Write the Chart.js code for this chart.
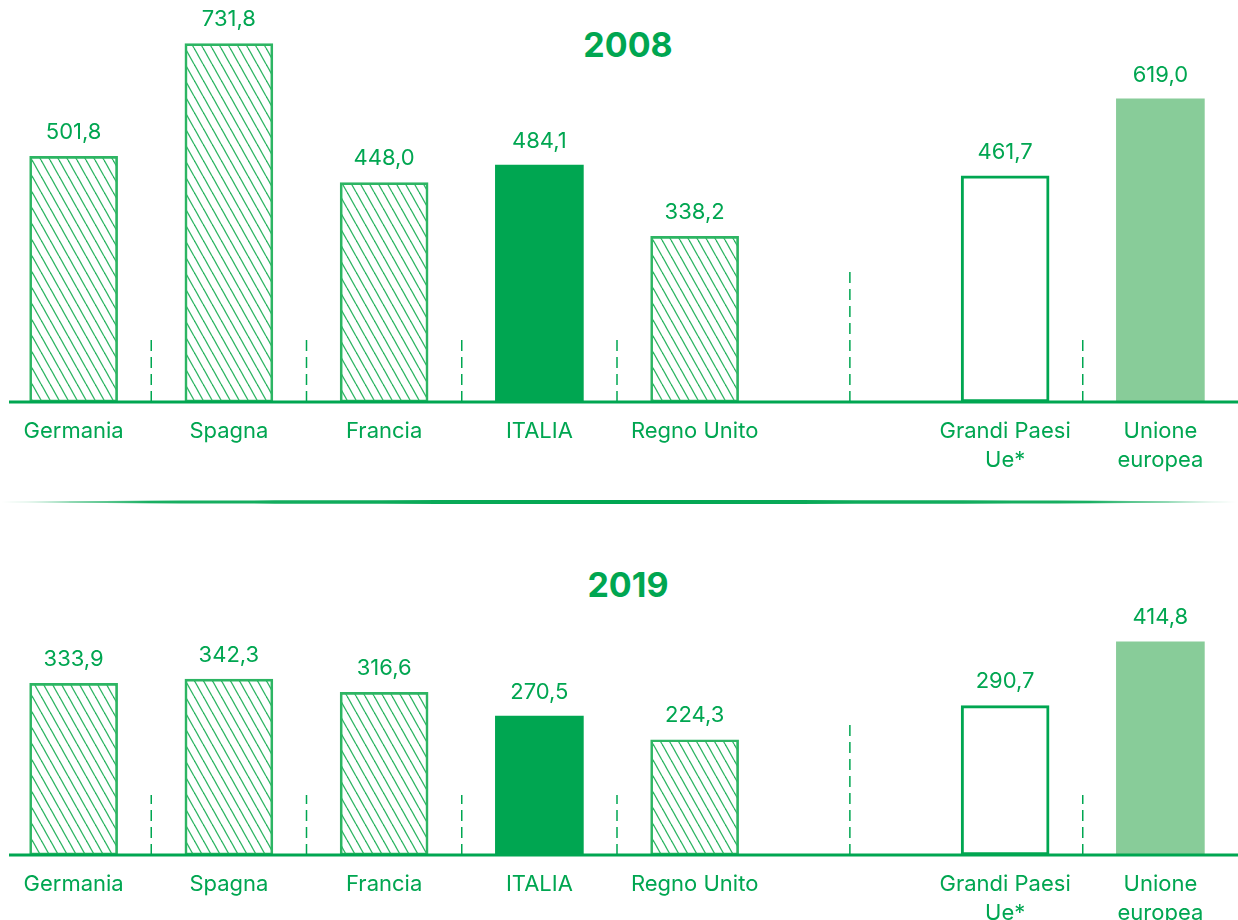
<!DOCTYPE html>
<html>
<head>
<meta charset="utf-8">
<script src="https://cdn.jsdelivr.net/npm/chart.js@4"></script>
<style>
  body{margin:0;background:#fff;width:1238px;height:920px;overflow:hidden;position:relative;font-family:Inter,"Noto Sans",sans-serif;}
  .year{position:absolute;left:0;width:1256px;text-align:center;color:#00a651;font-weight:700;font-size:34px;}
  #divider{position:absolute;left:0;top:500px;width:1238px;height:4px;
    background:linear-gradient(to right,rgba(0,166,81,0) 0%,rgba(0,166,81,0.9) 12%,#00a651 50%,rgba(0,166,81,0.9) 88%,rgba(0,166,81,0) 100%);
    border-radius:50%;}
  canvas{position:absolute;left:-4px;}
</style>
</head>
<body>
<div class="year" style="top:24px">2008</div>
<canvas id="chart2008" width="1242" height="480" style="top:0px"></canvas>
<div id="divider"></div>
<div class="year" style="top:564px">2019</div>
<canvas id="chart2019" width="1242" height="400" style="top:520px"></canvas>
<script>
var categories = ['Germania','Spagna','Francia','ITALIA','Regno Unito','',['Grandi Paesi','Ue*'],['Unione','europea']];
var values2008 = [501.8, 731.8, 448.0, 484.1, 338.2, null, 461.7, 619.0];
var values2019 = [333.9, 342.3, 316.6, 270.5, 224.3, null, 290.7, 414.8];

var green = '#00a651';
var hatchGreen = '#2db563';
var lightGreen = '#88cc99';

function makeHatch(){
  var c = document.createElement('canvas');
  c.width = 9; c.height = 16;
  var ctx = c.getContext('2d');
  ctx.strokeStyle = hatchGreen;
  ctx.lineWidth = 1.3;
  for(var k=-1;k<=1;k++){
    ctx.beginPath();
    ctx.moveTo(k*9, 0);
    ctx.lineTo(k*9+9, 16);
    ctx.stroke();
  }
  return c;
}

// dashed separators + baseline + value labels
var decoPlugin = {
  id: 'deco',
  afterDatasetsDraw: function(chart){
    var ctx = chart.ctx;
    var x = chart.scales.x;
    var area = chart.chartArea;
    var base = area.bottom;
    var small = chart.options.plugins.deco.small;
    var seps = [[0.5,small],[1.5,small],[2.5,small],[3.5,small],[5,130],[6.5,small]];
    ctx.save();
    ctx.strokeStyle = green;
    ctx.lineWidth = 1.5;
    ctx.setLineDash([11,6]);
    seps.forEach(function(s){
      var px = (x.getPixelForValue(Math.floor(s[0])) + x.getPixelForValue(Math.ceil(s[0])))/2;
      ctx.beginPath();
      ctx.moveTo(px, base);
      ctx.lineTo(px, base - s[1]);
      ctx.stroke();
    });
    ctx.setLineDash([]);
    ctx.lineWidth = 3;
    ctx.beginPath();
    ctx.moveTo(13, base);
    ctx.lineTo(chart.width, base);
    ctx.stroke();

    var meta = chart.getDatasetMeta(0);
    var data = chart.data.datasets[0].data;
    ctx.fillStyle = green;
    ctx.font = '22px Inter, "Noto Sans", sans-serif';
    ctx.textAlign = 'center';
    ctx.textBaseline = 'middle';
    meta.data.forEach(function(bar, i){
      if(data[i] == null) return;
      ctx.fillText(data[i].toFixed(1).replace('.', ','), bar.x, bar.y - 24);
    });
    ctx.restore();
  }
};

function makeChart(id, values, max, axisH, small){
  var hatch = document.getElementById(id).getContext('2d').createPattern(makeHatch(), 'repeat');
  var fills = [hatch, hatch, hatch, green, hatch, 'rgba(0,0,0,0)', '#ffffff', lightGreen];
  var borders = [hatchGreen, hatchGreen, hatchGreen, green, hatchGreen, green, green, lightGreen];
  var widths = [2, 2, 2, 0, 2, 0, 3, 0];
  return new Chart(document.getElementById(id), {
    type: 'bar',
    data: {
      labels: categories,
      datasets: [{
        data: values,
        backgroundColor: fills,
        borderColor: borders,
        borderWidth: widths,
        borderSkipped: false,
        barThickness: 88
      }]
    },
    options: {
      responsive: false,
      animation: false,
      layout: {padding: 0},
      plugins: {
        legend: {display: false},
        tooltip: {enabled: false},
        deco: {small: small}
      },
      scales: {
        x: {
          grid: {display: false},
          border: {display: false},
          afterFit: function(scale){ scale.height = axisH; },
          ticks: {
            color: green,
            padding: 7,
            maxRotation: 0,
            autoSkip: false,
            font: {family: 'Inter, "Noto Sans", sans-serif', size: 22, lineHeight: 1.32}
          }
        },
        y: {display: false, min: 0, max: max}
      }
    },
    plugins: [decoPlugin]
  });
}

makeChart('chart2008', values2008, 821, 78, 62);
makeChart('chart2019', values2019, 652, 65, 60);
</script>
</body>
</html>
